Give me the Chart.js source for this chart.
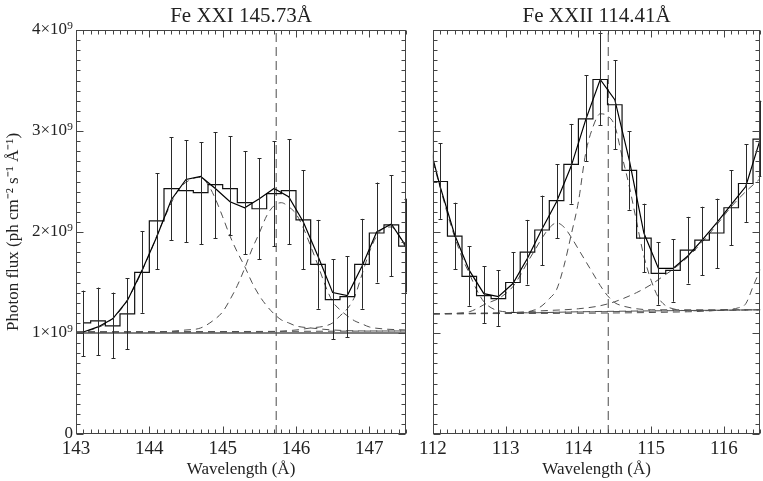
<!DOCTYPE html>
<html>
<head>
<meta charset="utf-8">
<script src="https://cdn.jsdelivr.net/npm/chart.js@4.4.0/dist/chart.umd.min.js"></script>
<style>
  html, body { margin: 0; padding: 0; background: #fff; }
  #wrap { position: relative; width: 763px; height: 481px; overflow: hidden; }
  .panel { position: absolute; top: 0; height: 481px; }
  #pL { left: 0; width: 415px; }
  #pR { left: 415px; width: 348px; }
</style>
</head>
<body>
<div id="wrap">
  <div class="panel" id="pL"><canvas id="chartL"></canvas></div>
  <div class="panel" id="pR"><canvas id="chartR"></canvas></div>
</div>
<script>
// flux values are in units of 1e9 ph cm-2 s-1 A-1
const yTicks = [0, 1, 2, 3, 4];
const xTicksL = [143, 144, 145, 146, 147];
const xTicksR = [112, 113, 114, 115, 116];

// ---- Fe XXI 145.73 ----
const binsL = [143.1, 143.3, 143.5, 143.7, 143.9, 144.1, 144.3, 144.5, 144.7, 144.9, 145.1, 145.3,
               145.5, 145.7, 145.9, 146.1, 146.3, 146.5, 146.7, 146.9, 147.1, 147.3, 147.5];
const fluxL = [1.10, 1.12, 1.07, 1.19, 1.60, 2.11, 2.43, 2.41, 2.39, 2.47, 2.43, 2.29,
               2.23, 2.38, 2.41, 2.12, 1.68, 1.33, 1.36, 1.68, 1.99, 2.07, 1.86];
const errHiL = [1.42, 1.45, 1.40, 1.54, 2.01, 2.58, 2.94, 2.91, 2.89, 2.99, 2.95, 2.80,
                2.73, 2.90, 2.92, 2.61, 2.12, 1.73, 1.76, 2.13, 2.49, 2.56, 2.33];
const errLoL = [0.77, 0.78, 0.75, 0.84, 1.20, 1.63, 1.92, 1.90, 1.88, 1.94, 1.97, 1.78,
                1.73, 1.86, 1.88, 1.63, 1.24, 0.94, 0.96, 1.24, 1.50, 1.56, 1.40];
const fitL = [1.01, 1.06, 1.14, 1.32, 1.62, 1.95, 2.32, 2.52, 2.55, 2.43, 2.30, 2.24,
              2.33, 2.43, 2.35, 2.10, 1.76, 1.40, 1.37, 1.66, 2.00, 2.08, 1.86];
const compL1 = [[143.0,1.00],[143.2,1.03],[143.4,1.09],[143.6,1.22],[143.8,1.46],[144.0,1.78],[144.2,2.13],
                [144.4,2.42],[144.6,2.53],[144.7,2.54],[144.8,2.47],[144.9,2.33],[145.0,2.15],[145.1,1.96],
                [145.2,1.80],[145.3,1.66],[145.4,1.50],[145.5,1.37],[145.6,1.27],[145.7,1.19],[145.8,1.13],
                [145.9,1.10],[146.0,1.07],[146.2,1.05],[146.5,1.03],[147.0,1.02],[147.5,1.02]];
const compL2 = [[143.0,1.01],[144.0,1.01],[144.5,1.03],[144.7,1.05],[144.9,1.14],[145.0,1.21],[145.1,1.33],
                [145.2,1.47],[145.3,1.64],[145.4,1.83],[145.5,1.99],[145.6,2.16],[145.7,2.26],[145.8,2.29],
                [145.9,2.25],[146.0,2.18],[146.1,2.04],[146.2,1.86],[146.3,1.67],[146.4,1.47],[146.5,1.31],
                [146.6,1.23],[146.7,1.17],[146.8,1.12],[146.9,1.09],[147.0,1.06],[147.2,1.04],[147.5,1.03]];
const compL3 = [[143.0,1.01],[145.5,1.01],[146.0,1.03],[146.2,1.05],[146.4,1.07],[146.5,1.10],[146.6,1.17],
                [146.7,1.24],[146.8,1.36],[146.9,1.58],[147.0,1.80],[147.1,1.96],[147.2,2.04],[147.3,2.05],
                [147.4,1.97],[147.5,1.84]];
const baseDashL = [[143.0,1.01],[147.5,1.02]];
const contL = 1.0;
const lineL = 145.73;

// ---- Fe XXII 114.41 ----
const binsR = [111.9, 112.1, 112.3, 112.5, 112.7, 112.9, 113.1, 113.3, 113.5, 113.7, 113.9, 114.1,
               114.3, 114.5, 114.7, 114.9, 115.1, 115.3, 115.5, 115.7, 115.9, 116.1, 116.3, 116.5];
const fluxR = [3.00, 2.50, 1.96, 1.56, 1.37, 1.34, 1.50, 1.80, 2.02, 2.31, 2.67, 3.12,
               3.51, 3.26, 2.61, 1.94, 1.59, 1.62, 1.82, 1.92, 1.99, 2.24, 2.48, 2.92];
const errHiR = [3.40, 2.88, 2.29, 1.86, 1.66, 1.62, 1.80, 2.12, 2.36, 2.67, 3.07, 3.55,
                3.97, 3.70, 3.00, 2.28, 1.90, 1.93, 2.15, 2.25, 2.33, 2.61, 2.87, 3.30];
const errLoR = [2.60, 2.13, 1.63, 1.27, 1.10, 1.07, 1.21, 1.48, 1.67, 1.94, 2.28, 2.70,
                3.06, 2.82, 2.22, 1.60, 1.28, 1.31, 1.49, 1.57, 1.64, 1.87, 2.10, 2.55];
const fitR = [3.01, 2.45, 1.97, 1.62, 1.39, 1.36, 1.49, 1.74, 2.03, 2.30, 2.65, 3.11,
              3.51, 3.31, 2.71, 1.99, 1.64, 1.64, 1.76, 1.92, 2.09, 2.27, 2.45, 2.92];
const compR1 = [[112.0,2.70],[112.1,2.44],[112.2,2.18],[112.3,1.95],[112.4,1.75],[112.5,1.59],[112.6,1.43],
                [112.7,1.31],[112.8,1.25],[112.9,1.22],[113.0,1.21],[113.3,1.20],[114.0,1.21],[116.5,1.23]];
const compR2 = [[112.0,1.19],[112.4,1.20],[112.5,1.21],[112.6,1.24],[112.7,1.28],[112.8,1.31],[112.9,1.34],
                [113.0,1.39],[113.1,1.46],[113.2,1.57],[113.3,1.70],[113.4,1.82],[113.5,1.94],[113.6,2.04],
                [113.7,2.09],[113.8,2.05],[113.9,1.95],[114.0,1.83],[114.1,1.71],[114.2,1.59],[114.3,1.47],
                [114.4,1.37],[114.5,1.30],[114.6,1.27],[114.8,1.24],[115.0,1.23],[116.5,1.23]];
const compR3 = [[112.0,1.19],[113.2,1.20],[113.4,1.23],[113.5,1.27],[113.6,1.34],[113.7,1.43],[113.8,1.66],
                [113.9,1.97],[114.0,2.30],[114.1,2.78],[114.2,3.04],[114.3,3.17],[114.4,3.15],[114.5,3.05],
                [114.6,2.75],[114.7,2.45],[114.8,2.10],[114.9,1.76],[115.0,1.52],[115.1,1.35],[115.2,1.27],
                [115.3,1.24],[115.5,1.22],[116.5,1.23]];
const compR4 = [[112.0,1.19],[113.0,1.20],[113.5,1.22],[114.0,1.24],[114.3,1.27],[114.5,1.31],[114.8,1.40],
                [115.0,1.48],[115.2,1.58],[115.3,1.63],[115.5,1.75],[115.7,1.90],[115.9,2.07],[116.1,2.25],
                [116.3,2.40],[116.5,2.53]];
const compR5 = [[112.0,1.19],[115.5,1.21],[116.0,1.23],[116.2,1.25],[116.3,1.29],[116.4,1.46],[116.5,1.63]];
const baseDashR = [[112.0,1.19],[116.5,1.23]];
const lineR = 114.41;

const SERIF = "'Liberation Serif', 'Times New Roman', serif";
const pts = (xs, ys) => xs.map((x, i) => ({ x, y: ys[i] }));
const pairs = (arr) => arr.map(p => ({ x: p[0], y: p[1] }));

// error bars with small caps, drawn through the chart scales
const errBars = {
  id: 'errbars',
  afterDatasetsDraw(chart, args, opts) {
    const { ctx, chartArea: a, scales: { x, y } } = chart;
    ctx.save();
    ctx.beginPath();
    ctx.rect(a.left, a.top - 1, a.right - a.left + 1, a.bottom - a.top + 2);
    ctx.clip();
    ctx.strokeStyle = '#2a2a2a';
    ctx.lineWidth = 1;
    ctx.beginPath();
    opts.xs.forEach((xv, i) => {
      if (xv < x.min - 1e-6 || xv > x.max + 1e-6) return;
      const px = Math.round(x.getPixelForValue(xv)) + 0.5;
      const top = y.getPixelForValue(opts.hi[i]);
      const bot = y.getPixelForValue(opts.lo[i]);
      ctx.moveTo(px, top); ctx.lineTo(px, bot);
      ctx.moveTo(px - 2, Math.round(top) + 0.5); ctx.lineTo(px + 2, Math.round(top) + 0.5);
      ctx.moveTo(px - 2, Math.round(bot) + 0.5); ctx.lineTo(px + 2, Math.round(bot) + 0.5);
    });
    ctx.stroke();
    ctx.restore();
  }
};

// box with inward ticks on all four sides
const frame = {
  id: 'frame',
  afterDraw(chart) {
    const { ctx, chartArea: a, scales: { x, y } } = chart;
    ctx.save();
    ctx.strokeStyle = '#444';
    ctx.lineWidth = 1;
    const L = Math.round(a.left) + 0.5, R = Math.round(a.right) - 0.5;
    const T = Math.round(a.top) + 0.5, B = Math.round(a.bottom) - 0.5;
    ctx.strokeRect(L, T, R - L, B - T);
    ctx.beginPath();
    for (let k = Math.round(x.min * 10); k <= Math.round(x.max * 10); k++) {
      const px = Math.round(x.getPixelForValue(k / 10)) + 0.5;
      const len = k % 10 === 0 ? 7 : 4;
      ctx.moveTo(px, B); ctx.lineTo(px, B - len);
      ctx.moveTo(px, T); ctx.lineTo(px, T + len);
    }
    for (let k = Math.round(y.min * 10); k <= Math.round(y.max * 10); k++) {
      const py = Math.round(y.getPixelForValue(k / 10)) + 0.5;
      const len = k % 10 === 0 ? 7 : 4;
      ctx.moveTo(L, py); ctx.lineTo(L + len, py);
      ctx.moveTo(R, py); ctx.lineTo(R - len, py);
    }
    ctx.stroke();
    ctx.restore();
  }
};

function dashed(data) {
  return { data, borderColor: '#505050', borderWidth: 1, borderDash: [7, 5], pointRadius: 0,
           cubicInterpolationMode: 'monotone', fill: false };
}

function makePanel(id, o) {
  const datasets = [
    { data: pts(o.bins, o.fit), borderColor: '#000', borderWidth: 1.2, pointRadius: 0, tension: 0 },
    { data: pts(o.bins, o.flux), borderColor: '#111', borderWidth: 1.2, pointRadius: 0, stepped: 'middle' },
    ...o.comps.map(c => dashed(pairs(c))),
    dashed(pairs(o.baseDash)),
    { data: [{ x: o.line, y: 0 }, { x: o.line, y: 4 }], borderColor: '#4a4a4a', borderWidth: 1,
      borderDash: [9, 5], pointRadius: 0 }
  ];
  if (o.cont !== null) {
    datasets.push({ data: [{ x: o.xMin, y: o.cont }, { x: o.xMax, y: o.cont }], borderColor: '#000',
                    borderWidth: 1.2, pointRadius: 0 });
  }
  return new Chart(document.getElementById(id), {
    type: 'line',
    data: { datasets },
    options: {
      responsive: true,
      maintainAspectRatio: false,
      animation: false,
      devicePixelRatio: 1,
      layout: { padding: o.padding },
      plugins: {
        legend: { display: false },
        tooltip: { enabled: false },
        title: {
          display: true, text: o.title, fullSize: false, color: '#222',
          font: { family: SERIF, size: 21, weight: 'normal', lineHeight: 1.2 },
          padding: { top: 4, bottom: 0.8 }
        },
        errbars: { xs: o.bins, lo: o.lo, hi: o.hi }
      },
      scales: {
        x: {
          type: 'linear', min: o.xMin, max: o.xMax,
          grid: { display: false, drawTicks: false }, border: { display: false },
          afterBuildTicks: (s) => { s.ticks = o.xTicks.map(v => ({ value: v })); },
          afterFit: (s) => { s.height = 47; },
          ticks: { color: '#222', padding: 4, maxRotation: 0, font: { family: SERIF, size: 19 } },
          title: { display: true, text: 'Wavelength (Å)', color: '#222', padding: { top: 0, bottom: 1 },
                   font: { family: SERIF, size: 17 } }
        },
        y: {
          type: 'linear', min: 0, max: 4, display: o.showY,
          grid: { display: false, drawTicks: false }, border: { display: false },
          afterBuildTicks: (s) => { s.ticks = yTicks.map(v => ({ value: v })); },
          afterFit: (s) => { if (o.showY) s.width = 76; },
          ticks: { color: '#222', padding: 3, font: { family: SERIF, size: 17 },
                   callback: (v) => v === 0 ? '0' : v + '×10⁹' },
          title: { display: true, text: 'Photon flux (ph cm⁻² s⁻¹ Å⁻¹)', color: '#222',
                   padding: { top: 3, bottom: 0 }, font: { family: SERIF, size: 17 } }
        }
      }
    },
    plugins: [errBars, frame]
  });
}

makePanel('chartL', {
  title: 'Fe XXI 145.73Å', xMin: 143, xMax: 147.5, xTicks: xTicksL, showY: true,
  padding: { left: 0, right: 9, top: 0, bottom: 0 },
  bins: binsL, flux: fluxL, fit: fitL, lo: errLoL, hi: errHiL,
  comps: [compL1, compL2, compL3], baseDash: baseDashL, cont: contL, line: lineL
});

makePanel('chartR', {
  title: 'Fe XXII 114.41Å', xMin: 112, xMax: 116.5, xTicks: xTicksR, showY: false,
  padding: { left: 15.7, right: 2.7, top: 0, bottom: 0 },
  bins: binsR, flux: fluxR, fit: fitR, lo: errLoR, hi: errHiR,
  comps: [compR1, compR2, compR3, compR4, compR5], baseDash: baseDashR, cont: null, line: lineR
});
</script>
</body>
</html>
